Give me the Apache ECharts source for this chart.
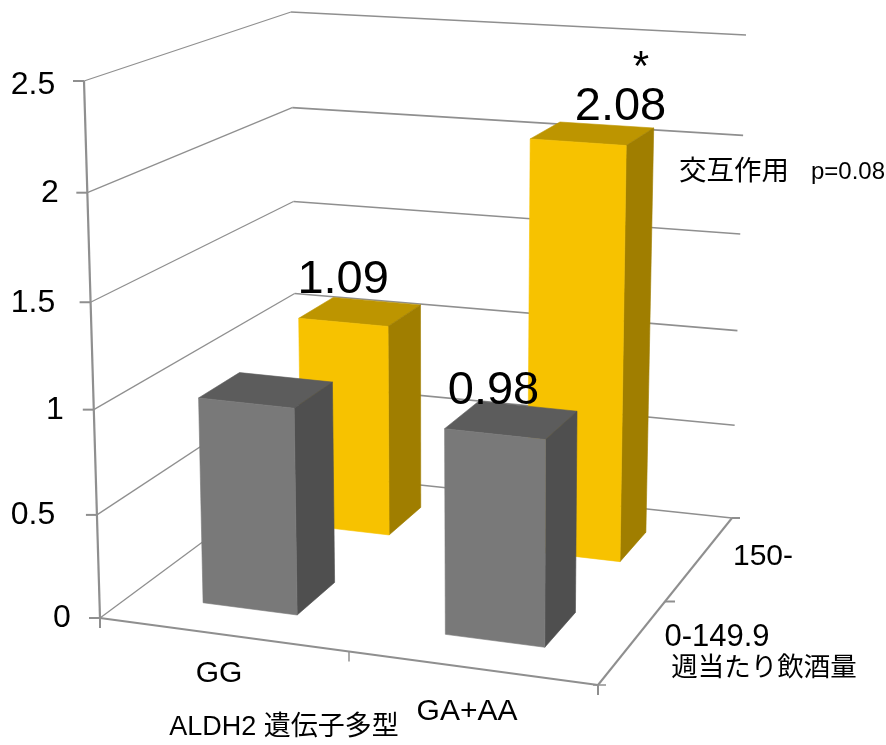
<!DOCTYPE html>
<html><head><meta charset="utf-8">
<style>html,body{margin:0;padding:0;background:#fff}#c{width:886px;height:745px}</style>
<script src="https://cdn.jsdelivr.net/npm/echarts@6/dist/echarts.min.js"></script>
</head><body><div id="c"></div>
<script>
const categories = ['GG', 'GA+AA'];
const depthLabels = ['0-149.9', '150-'];
const grayValues = [1.00, 0.98];
const yellowValues = [1.09, 2.08];
const yTicks = [0, 0.5, 1, 1.5, 2, 2.5];
const yTickLabels = ['0', '0.5', '1', '1.5', '2', '2.5'];
const yMax = 2.5;

// projection of the 3D box: screen corners [floor, top]
const A=[100,618],B=[598,685],C=[732,518],D=[297,472];
const At=[84,81],Bt=[601,121],Ct=[746,35],Dt=[291,12];
const lerp=(p,q,t)=>[p[0]+(q[0]-p[0])*t,p[1]+(q[1]-p[1])*t];
const warp=t=>t+0.05*t*(t-1);
function project(u,w,t){
  const s=warp(t);
  const bot=lerp(lerp(A,B,u),lerp(D,C,u),w);
  const top=lerp(lerp(At,Bt,u),lerp(Dt,Ct,u),w);
  return lerp(bot,top,s);
}
// footprint of the bars in floor coordinates
const catSpan=[[0.144,0.337],[0.641,0.845]];
const depthSpan=[[0.167,0.38],[0.69,0.87]];
const FONT="'Liberation Sans','Noto Sans CJK JP',sans-serif";
const tickLabelPos=[[62,618],[33,515],[55,410],[33,303],[50,193],[33,85]];
const lineColor='#8f8f8f';

const valueToT=(api,cat,v)=>1-api.coord([cat,v])[1]/api.getHeight();
function seg(p,q,w){
  return {type:'line',shape:{x1:p[0],y1:p[1],x2:q[0],y2:q[1]},style:{stroke:lineColor,lineWidth:w}};
}
function txt(s,x,y,size,align){
  return {type:'text',style:{text:s,x:x,y:y,font:size+'px '+FONT,fill:'#000',align:align||'center',verticalAlign:'middle'}};
}
function renderGrid(params,api){
  const v=api.value(1), t=valueToT(api,0,v);
  const f=project(0,0,t), d=project(0,1,t), r=project(1,1,t);
  const i=params.dataIndex;
  const pos=tickLabelPos[i];
  return {type:'group',children:[
    seg(f,d,1.3), seg(d,r,1.7), seg([f[0]-11,f[1]],f,2),
    txt(yTickLabels[i],pos[0],pos[1],32)
  ]};
}
function renderFloor(params,api){
  const a=project(0,0,0),b=project(1,0,0),c=project(1,1,0),top=project(0,0,1);
  const m=project(0.5,0,0),n=project(1,0.5,0);
  return {type:'group',children:[
    seg(a,b,2.2),seg(b,c,2),seg(a,top,2.2),
    seg(a,[a[0],a[1]+10],2),seg(m,[m[0],m[1]+10],1.5),seg(b,[b[0],b[1]+10],2),
    seg([b[0]-5,b[1]],[b[0]+8,b[1]],1.5),
    seg(n,[n[0]+10,n[1]],2),seg(c,[c[0]+8,c[1]],2)
  ]};
}
function poly(pts,fill){
  return {type:'polygon',shape:{points:pts},style:{fill:fill,stroke:fill,lineWidth:0.6}};
}
function makeBar(depth,colors,labels,offsets){
  return function(params,api){
    const cat=api.value(0), v=api.value(1);
    const t=valueToT(api,cat,v);
    const [u0,u1]=catSpan[cat],[w0,w1]=depthSpan[depth];
    const p=(u,w,h)=>project(u,w,h);
    const kids=[
      poly([p(u0,w0,t),p(u1,w0,t),p(u1,w1,t),p(u0,w1,t)],colors.top),
      poly([p(u1,w0,0),p(u1,w1,0),p(u1,w1,t),p(u1,w0,t)],colors.side),
      poly([p(u0,w0,0),p(u1,w0,0),p(u1,w0,t),p(u0,w0,t)],colors.front)
    ];
    if(labels[cat]){
      const c=p((u0+u1)/2,(w0+w1)/2,t);
      kids.push(txt(labels[cat],c[0]+offsets[cat][0],c[1]+offsets[cat][1],47));
    }
    return {type:'group',children:kids};
  };
}
const chart=echarts.init(document.getElementById('c'),null,{renderer:'canvas'});
chart.setOption({
  animation:false,
  backgroundColor:'#fff',
  grid:{left:0,right:0,top:0,bottom:0},
  xAxis:{type:'category',data:categories,show:false},
  yAxis:{type:'value',min:0,max:yMax,show:false},
  tooltip:{show:false},
  series:[
    {type:'custom',clip:false,silent:true,z:1,coordinateSystem:'cartesian2d',encode:{x:0,y:1},
     data:yTicks.map(v=>[0,v]),renderItem:renderGrid},
    {type:'custom',clip:false,silent:true,z:2,coordinateSystem:'cartesian2d',encode:{x:0,y:1},
     data:[[0,0]],renderItem:renderFloor},
    {type:'custom',clip:false,silent:true,z:3,coordinateSystem:'cartesian2d',encode:{x:0,y:1},
     data:yellowValues.map((v,i)=>[i,v]),
     renderItem:makeBar(1,{front:'#f7c200',top:'#bd9500',side:'#a07e00'},yellowValues.map(v=>v.toFixed(2)),[[-17,-32],[28,-27]])},
    {type:'custom',clip:false,silent:true,z:4,coordinateSystem:'cartesian2d',encode:{x:0,y:1},
     data:grayValues.map((v,i)=>[i,v]),
     renderItem:makeBar(0,{front:'#797979',top:'#5c5c5c',side:'#4f4f4f'},['',grayValues[1].toFixed(2)],[[0,0],[-18,-29]])}
  ],
  graphic:[
    ['*',641,68,42],
    [categories[0],219,674,30],
    [categories[1],467,712,30],
    ['ALDH2 遺伝子多型',284,728,27],
    [depthLabels[1],763,557,30],
    [depthLabels[0],717,637,31],
    ['週当たり飲酒量',764,669,26.5],
    ['交互作用',734,172,27.5],
    ['p=0.08',848,172,24]
  ].map(a=>({type:'text',z:10,silent:true,style:{text:a[0],x:a[1],y:a[2],font:a[3]+'px '+FONT,fill:'#000',align:'center',verticalAlign:'middle'}}))
});
</script></body></html>
